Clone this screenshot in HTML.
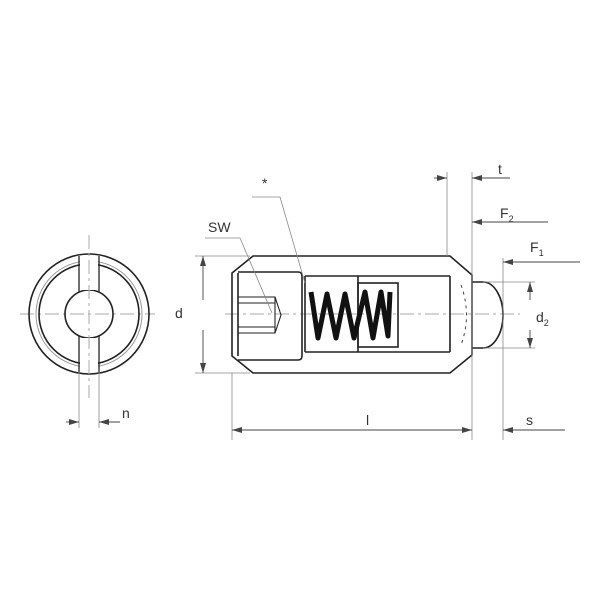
<!DOCTYPE html>
<html><head><style>body{margin:0;background:#fff}svg{display:block}text{font-family:"Liberation Sans",sans-serif;fill:#333}</style></head><body>
<svg width="600" height="600" viewBox="0 0 600 600" xmlns="http://www.w3.org/2000/svg">
<defs><marker id="a" markerWidth="10" markerHeight="6" refX="10" refY="3" orient="auto" markerUnits="userSpaceOnUse"><path d="M0,0L10,3L0,6z" fill="#444"/></marker></defs>
<g stroke="#aaa" stroke-width="1" fill="none" stroke-dasharray="14,4,3,4">
<line x1="20" y1="314" x2="155" y2="314"/>
<line x1="225" y1="314" x2="520" y2="314"/>
</g>
<g stroke="#222" fill="none" stroke-width="1.6">
<circle cx="89" cy="314" r="50"/><circle cx="89" cy="314" r="24"/>
</g>
<g stroke="#999" fill="none" stroke-width="1"><circle cx="89" cy="314" r="53"/></g>
<g stroke="#fff" stroke-width="18"><line x1="89" y1="255" x2="89" y2="290"/><line x1="89" y1="338" x2="89" y2="373"/></g>
<circle cx="89" cy="314" r="60" stroke="#222" fill="none" stroke-width="1.6"/>
<line x1="89" y1="235" x2="89" y2="398" stroke="#aaa" stroke-dasharray="14,4,3,4"/>
<g stroke="#222" stroke-width="1.3" fill="none">
<line x1="79" y1="256" x2="79" y2="292"/><line x1="99" y1="256" x2="99" y2="292"/>
<line x1="79" y1="336" x2="79" y2="372"/><line x1="99" y1="336" x2="99" y2="372"/>
</g>
<g stroke="#888" stroke-width="0.8" fill="none">
<line x1="79" y1="372" x2="79" y2="428"/><line x1="99" y1="372" x2="99" y2="428"/>
</g>
<g stroke="#444" stroke-width="0.9" fill="none">
<line x1="66" y1="422" x2="79" y2="422" marker-end="url(#a)"/>
<line x1="120" y1="422" x2="99" y2="422" marker-end="url(#a)"/>
</g>
<text x="122" y="418" font-size="14">n</text>
<g stroke="#222" stroke-width="1.6" fill="none">
<path d="M253,256 L450,256 L472,275 L472,355 L450,373 L253,373 L232,356 L232,273 Z"/>
<line x1="238" y1="273" x2="238" y2="356"/>
<path d="M238,272 L298,272 Q302,272 302,276 L302,356 Q302,360 298,360 L238,360"/>
<line x1="305" y1="276" x2="450" y2="276"/><line x1="305" y1="352" x2="450" y2="352"/>
<line x1="450" y1="276" x2="450" y2="352"/>
<line x1="305" y1="276" x2="305" y2="352"/>
<line x1="358" y1="276" x2="358" y2="352"/>
<rect x="358" y="283" width="40" height="64"/>
</g>
<g stroke="#222" stroke-width="1.1" fill="none">
<path d="M238,297 L275,297 L281,315 L275,333 L238,333"/>
<line x1="238" y1="303" x2="275" y2="303"/><line x1="238" y1="327" x2="275" y2="327"/>
<line x1="275" y1="297" x2="275" y2="333"/>
</g>
<polyline points="311,292 318,338 327,294 336,338 345,294 354,338 365,292 373,338 381,292 388,336 390,292" stroke="#111" stroke-width="5" fill="none" stroke-linejoin="round"/>
<path d="M472,282 L483,282 A20,33 0 0 1 483,348 L472,348" stroke="#222" stroke-width="1.6" fill="none"/>
<path d="M461,285 Q472,315 461,345" stroke="#444" stroke-width="1" stroke-dasharray="3,4" fill="none"/>
<g stroke="#888" stroke-width="0.8" fill="none">
<line x1="447" y1="172" x2="447" y2="256"/><line x1="472" y1="172" x2="472" y2="440"/>
<line x1="503" y1="258" x2="503" y2="440"/><line x1="232" y1="373" x2="232" y2="440"/>
<line x1="483" y1="282" x2="535" y2="282"/><line x1="483" y1="348" x2="535" y2="348"/>
<line x1="195" y1="256" x2="250" y2="256"/><line x1="195" y1="373" x2="250" y2="373"/>
<path d="M205,238 L240,238 L272,313"/>
<path d="M252,197 L280,197 L305,283"/>
</g>
<g stroke="#444" stroke-width="0.9" fill="none">
<line x1="434" y1="178" x2="447" y2="178" marker-end="url(#a)"/>
<line x1="510" y1="178" x2="472" y2="178" marker-end="url(#a)"/>
<line x1="548" y1="222" x2="472" y2="222" marker-end="url(#a)"/>
<line x1="580" y1="262" x2="503" y2="262" marker-end="url(#a)"/>
<line x1="530" y1="300" x2="530" y2="282" marker-end="url(#a)"/>
<line x1="530" y1="330" x2="530" y2="348" marker-end="url(#a)"/>
<line x1="203" y1="300" x2="203" y2="256" marker-end="url(#a)"/>
<line x1="203" y1="330" x2="203" y2="373" marker-end="url(#a)"/>
<line x1="350" y1="430" x2="232" y2="430" marker-end="url(#a)"/>
<line x1="350" y1="430" x2="472" y2="430" marker-end="url(#a)"/>
<line x1="565" y1="430" x2="503" y2="430" marker-end="url(#a)"/>
</g>
<g font-size="14">
<text x="498" y="174">t</text>
<text x="500" y="218">F<tspan font-size="9" dy="4">2</tspan></text>
<text x="530" y="252">F<tspan font-size="9" dy="4">1</tspan></text>
<text x="536" y="322">d<tspan font-size="9" dy="4">2</tspan></text>
<text x="175" y="318">d</text>
<text x="208" y="232">SW</text>
<text x="262" y="188">*</text>
<text x="366" y="425">l</text>
<text x="526" y="425">s</text>
</g>
</svg>
</body></html>
